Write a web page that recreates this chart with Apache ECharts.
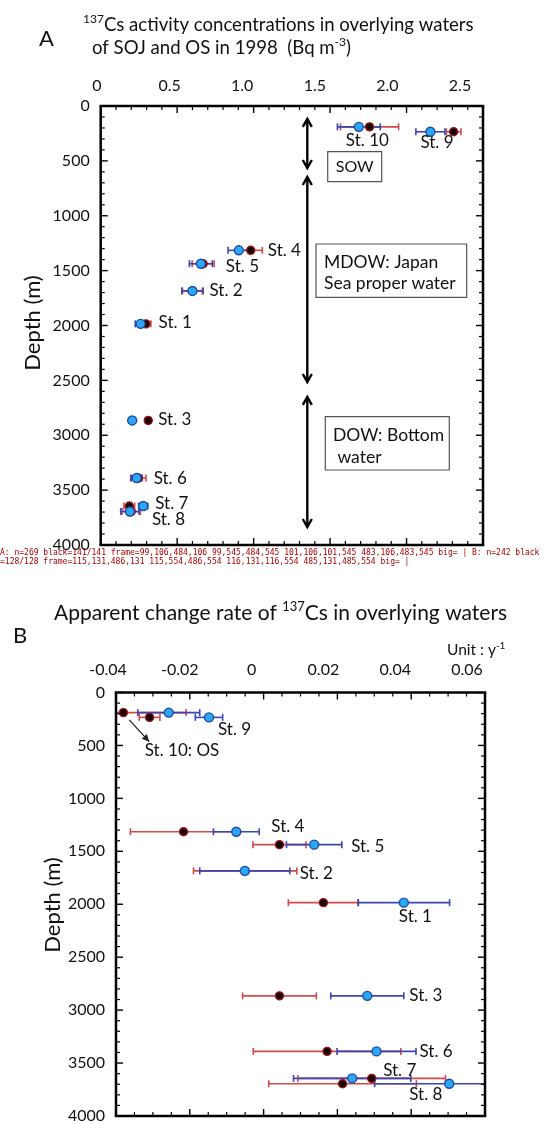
<!DOCTYPE html>
<html>
<head>
<meta charset="utf-8">
<script src="https://cdn.jsdelivr.net/npm/echarts@6/dist/echarts.min.js"></script>
<style>html,body{margin:0;padding:0;background:#fff;}#a{width:544px;height:562px;}#b{width:544px;height:562px;}#d{position:absolute;left:0;top:548px;width:544px;font:8px monospace;line-height:9px;white-space:pre-wrap;word-break:break-all;color:#a00;}</style>
</head>
<body>
<div id="a"></div>
<div id="b"></div>
<div id="d"></div>
<script>
// ---------- data ----------
const stations = ['St. 10', 'St. 9', 'St. 4', 'St. 5', 'St. 2', 'St. 1', 'St. 3', 'St. 6', 'St. 7', 'St. 8'];
const depths   = [190, 235, 1315, 1437, 1685, 1985, 2865, 3390, 3645, 3695];
const concRed     = [1.758, 2.308, 0.981, 0.670, 0.600, 0.296, 0.311, 0.246, 0.187, 0.200];
const concRedErr  = [0.19, 0.048, 0.076, 0.072, 0.065, 0.032, 0.018, 0.05, 0.035, 0.06];
const concBlue    = [1.688, 2.156, 0.903, 0.655, 0.600, 0.261, 0.206, 0.235, 0.278, 0.191];
const concBlueErr = [0.14, 0.095, 0.07, 0.075, 0.07, 0.035, 0.02, 0.035, 0.03, 0.06];
const rateRed     = [-0.0380, -0.0309, -0.0217, 0.0043, -0.0050, 0.0162, 0.0043, 0.0172, 0.0293, 0.0214];
const rateRedErr  = [0.017, 0.0028, 0.0144, 0.0072, 0.014, 0.0095, 0.010, 0.020, 0.020, 0.020];
const rateBlue    = [-0.0257, -0.0148, -0.0074, 0.0137, -0.0051, 0.0380, 0.0281, 0.0306, 0.0240, 0.0503];
const rateBlueErr = [0.0084, 0.0037, 0.0062, 0.0075, 0.0122, 0.0124, 0.0099, 0.0107, 0.0159, 0.0202];
const waterArrows = [[1.351, 118, 565], [1.351, 647, 2515], [1.351, 2651, 3836]];
const osPointer = [[-0.0364, 259, -0.0310, 464]];
const depthMajor = [0, 500, 1000, 1500, 2000, 2500, 3000, 3500, 4000];
const depthMinor = [100, 200, 300, 400, 600, 700, 800, 900, 1100, 1200, 1300, 1400, 1600, 1700, 1800, 1900,
  2100, 2200, 2300, 2400, 2600, 2700, 2800, 2900, 3100, 3200, 3300, 3400, 3600, 3700, 3800, 3900];
const concMajor = [0, 0.5, 1.0, 1.5, 2.0, 2.5];
const concMinor = [0.1, 0.2, 0.3, 0.4, 0.6, 0.7, 0.8, 0.9, 1.1, 1.2, 1.3, 1.4, 1.6, 1.7, 1.8, 1.9, 2.1, 2.2, 2.3, 2.4];
const rateMajor = [-0.04, -0.02, 0, 0.02, 0.04, 0.06];
const rateMinor = [-0.035, -0.03, -0.025, -0.015, -0.01, -0.005, 0.005, 0.01, 0.015, 0.025, 0.03, 0.035, 0.045, 0.05, 0.055];

// ---------- styles ----------
const FONT = 'Lato, "Open Sans", sans-serif';
const RED_BAR = '#d24a4a', BLUE_BAR = '#3a46b2';
const labelOffA = [[-13, 14], [-10, 11], [29, 0], [25, 3], [17, 0], [18, -1], [26, -1], [17, 0], [12, -3], [22, 8]];
const labelOffB = [[-24, 38], [9, 12], [35, -5], [37, 2], [55, 3], [-5, 14], [42, 0], [43, 0], [31, -8], [-40, 11]];
const B_TOP = 562;

function errBar(color) {
  return function (params, api) {
    const x = api.value(0), y = api.value(1), e = api.value(2);
    const cs = params.coordSys;
    const p1 = api.coord([x - e, y]), p2 = api.coord([x + e, y]);
    const left = cs.x, right = cs.x + cs.width;
    const x1 = Math.max(p1[0], left), x2 = Math.min(p2[0], right);
    const st = () => ({ stroke: color, lineWidth: 1.6 });
    const ch = [{ type: 'line', shape: { x1: x1, y1: p1[1], x2: x2, y2: p1[1] }, style: st() }];
    if (p1[0] >= left) ch.push({ type: 'line', shape: { x1: x1, y1: p1[1] - 3.5, x2: x1, y2: p1[1] + 3.5 }, style: st() });
    if (p2[0] <= right) ch.push({ type: 'line', shape: { x1: x2, y1: p2[1] - 3.5, x2: x2, y2: p2[1] + 3.5 }, style: st() });
    return { type: 'group', children: ch };
  };
}
function dblArrow(params, api) {
  const a = api.coord([api.value(0), api.value(1)]), b = api.coord([api.value(0), api.value(2)]);
  const st = () => ({ stroke: '#000', lineWidth: 2.4, fill: null });
  return { type: 'group', children: [
    { type: 'line', shape: { x1: a[0], y1: a[1], x2: b[0], y2: b[1] }, style: st() },
    { type: 'polyline', shape: { points: [[a[0] - 4.5, a[1] + 8], [a[0], a[1]], [a[0] + 4.5, a[1] + 8]] }, style: st() },
    { type: 'polyline', shape: { points: [[b[0] - 4.5, b[1] - 8], [b[0], b[1]], [b[0] + 4.5, b[1] - 8]] }, style: st() }
  ]};
}
function pointer(params, api) {
  const a = api.coord([api.value(0), api.value(1)]), b = api.coord([api.value(2), api.value(3)]);
  const ang = Math.atan2(b[1] - a[1], b[0] - a[0]);
  const L = 8, w = 0.45;
  const h1 = [b[0] - L * Math.cos(ang - w), b[1] - L * Math.sin(ang - w)];
  const h2 = [b[0] - L * Math.cos(ang + w), b[1] - L * Math.sin(ang + w)];
  return { type: 'group', children: [
    { type: 'line', shape: { x1: a[0], y1: a[1], x2: b[0], y2: b[1] }, style: { stroke: '#222', lineWidth: 1.3 } },
    { type: 'polygon', shape: { points: [b, h1, h2] }, style: { fill: '#222' } }
  ]};
}
function frameRender(xLo, xHi, xMaj, xMin) {
  return function (params, api) {
    const tl = api.coord([xLo, 0]), br = api.coord([xHi, 4000]);
    const L = tl[0], T = tl[1], R = br[0], B = br[1];
    const ch = [];
    const ln = (x1, y1, x2, y2, w) => ch.push({ type: 'line', shape: { x1: x1, y1: y1, x2: x2, y2: y2 }, style: { stroke: '#000', lineWidth: w } });
    xMaj.forEach(v => { const px = api.coord([v, 0])[0]; ln(px, T, px, T + 7, 1.4); ln(px, B, px, B - 7, 1.4); });
    xMin.forEach(v => { const px = api.coord([v, 0])[0]; ln(px, T, px, T + 4, 1.2); ln(px, B, px, B - 4, 1.2); });
    depthMajor.forEach(v => { const py = api.coord([xLo, v])[1]; ln(L, py, L + 7, py, 1.4); ln(R, py, R - 7, py, 1.4); });
    depthMinor.forEach(v => { const py = api.coord([xLo, v])[1]; ln(L, py, L + 4, py, 1.2); ln(R, py, R - 4, py, 1.2); });
    ln(L - 1.25, T, R + 1.25, T, 2.5); ln(L - 1.25, B, R + 1.25, B, 2.5);
    ln(L, T, L, B, 2.5); ln(R, T, R, B, 2.5);
    return { type: 'group', children: ch };
  };
}

const tickLabel = () => ({ fontFamily: FONT, fontSize: 16, color: '#111' });
function dataX(min, max, interval) {
  return { type: 'value', gridIndex: 0, position: 'top', min: min, max: max, interval: interval,
    axisLine: { show: false, onZero: false }, axisTick: { show: false }, axisLabel: { show: false }, splitLine: { show: false } };
}
function labelX(min, max, interval, dec, margin) {
  return { type: 'value', gridIndex: 1, position: 'top', min: min, max: max, interval: interval,
    axisLine: { show: false, onZero: false }, axisTick: { show: false }, splitLine: { show: false },
    axisLabel: Object.assign({ margin: margin, formatter: v => Math.abs(v) < 1e-9 ? '0' : v.toFixed(dec) }, tickLabel()) };
}
function depthY() {
  return { type: 'value', gridIndex: 0, position: 'left', inverse: true, min: 0, max: 4000, interval: 500,
    axisLine: { show: false, onZero: false }, axisTick: { show: false }, splitLine: { show: false },
    axisLabel: Object.assign({ margin: 11, formatter: v => String(v) }, tickLabel()) };
}
function hiddenY() {
  return { type: 'value', gridIndex: 1, inverse: true, min: 0, max: 4000, show: false };
}
function pts(xs, color, border, size, offs, withLabel, z) {
  return {
    type: 'scatter', xAxisIndex: 0, yAxisIndex: 0, symbol: 'circle', symbolSize: size, z: z,
    itemStyle: { color: color, borderColor: border, borderWidth: 1.4, opacity: 1 },
    label: { show: false },
    data: xs.map((x, i) => ({
      value: [x, depths[i]], name: stations[i],
      label: withLabel ? { show: true, position: 'inside', align: 'left', verticalAlign: 'middle',
        offset: offs[i], formatter: (withLabel === 'B' && i === 0) ? 'St. 10: OS' : '{b}',
        fontFamily: FONT, fontSize: 17, color: '#111' } : { show: false }
    }))
  };
}
function errs(xs, es, color, z) {
  return { type: 'custom', xAxisIndex: 0, yAxisIndex: 0, z: z, renderItem: errBar(color),
    data: xs.map((x, i) => [x, depths[i], es[i]]), silent: true };
}
function frame(xLo, xHi, xMaj, xMin) {
  return { type: 'custom', xAxisIndex: 0, yAxisIndex: 0, z: 30, zlevel: 3, clip: false, silent: true,
    renderItem: frameRender(xLo, xHi, xMaj, xMin), data: [[xLo, 0]] };
}
const boxStyle = () => ({ fill: '#fff', stroke: '#555', lineWidth: 1.2 });
const txt = (x, y, text, size, extra) => ({ type: 'text', x: x, y: y, z: 100,
  style: Object.assign({ text: text, font: size + 'px ' + FONT, fill: '#111', textVerticalAlign: 'middle' }, extra || {}) });

const optionA = {
  animation: false,
  grid: [{ left: 100.7, top: 106, width: 382.3, height: 439 }, { left: 97, top: 106, width: 363, height: 439 }],
  xAxis: [dataX(0, 2.5, 0.5), labelX(0, 2.5, 0.5, 1, 12)],
  yAxis: [depthY(), hiddenY()],
  series: [
    frame(0, 2.5, concMajor, concMinor),
    errs(concRed, concRedErr, RED_BAR, 2),
    errs(concBlue, concBlueErr, BLUE_BAR, 3),
    pts(concRed, '#140404', '#9a1212', 8, labelOffA, false, 4),
    pts(concBlue, '#2aa8f2', '#1f4aa8', 9, labelOffA, 'A', 5),
    { type: 'custom', xAxisIndex: 0, yAxisIndex: 0, z: 6, renderItem: dblArrow, data: waterArrows, silent: true }
  ],
  graphic: [
    txt(39, 39, 'A', 22),
    { type: 'text', x: 83, y: 25, z: 100, style: {
      text: '{s|137}Cs activity concentrations in overlying waters',
      font: '18.6px ' + FONT, fill: '#111', textVerticalAlign: 'middle',
      rich: { s: { fontSize: 12, verticalAlign: 'top', lineHeight: 23, fontFamily: FONT, padding: [0, 0, 6, 0] } } } },
    { type: 'text', x: 92, y: 48, z: 100, style: {
      text: 'of SOJ and OS in 1998  (Bq m{s|-3})',
      font: '18.6px ' + FONT, fill: '#111', textVerticalAlign: 'middle',
      rich: { s: { fontSize: 12, verticalAlign: 'top', lineHeight: 23, fontFamily: FONT, padding: [0, 0, 6, 0] } } } },
    Object.assign(txt(33, 323, 'Depth (m)', 22, { textAlign: 'center' }), { rotation: Math.PI / 2 }),
    { type: 'rect', shape: { x: 327.7, y: 151.7, width: 54, height: 30 }, style: boxStyle(), z: 90 },
    txt(354.7, 167, 'SOW', 16, { textAlign: 'center' }),
    { type: 'rect', shape: { x: 316, y: 244, width: 150.7, height: 53.3 }, style: boxStyle(), z: 90 },
    txt(324, 262, 'MDOW: Japan', 17.5),
    txt(324, 283.5, 'Sea proper water', 17.5),
    { type: 'rect', shape: { x: 325.3, y: 416.7, width: 124, height: 53.3 }, style: boxStyle(), z: 90 },
    txt(333, 435, 'DOW: Bottom', 17.5),
    txt(333, 457, ' water', 17.5)
  ]
};
const optionB = {
  animation: false,
  grid: [{ left: 116, top: 692.5 - B_TOP, width: 369, height: 424.5 }, { left: 108, top: 692.5 - B_TOP, width: 359, height: 424.5 }],
  xAxis: [dataX(-0.04, 0.06, 0.02), labelX(-0.04, 0.06, 0.02, 2, 15)],
  yAxis: [depthY(), hiddenY()],
  series: [
    frame(-0.04, 0.06, rateMajor, rateMinor),
    errs(rateRed, rateRedErr, RED_BAR, 2),
    errs(rateBlue, rateBlueErr, BLUE_BAR, 3),
    pts(rateRed, '#140404', '#9a1212', 8, labelOffB, false, 4),
    pts(rateBlue, '#2aa8f2', '#1f4aa8', 9, labelOffB, 'B', 5),
    { type: 'custom', xAxisIndex: 0, yAxisIndex: 0, z: 6, renderItem: pointer, data: osPointer, silent: true }
  ],
  graphic: [
    txt(13, 636 - B_TOP, 'B', 22),
    { type: 'text', x: 54, y: 613 - B_TOP, z: 100, style: {
      text: 'Apparent change rate of {s|137}Cs in overlying waters',
      font: '21px ' + FONT, fill: '#111', textVerticalAlign: 'middle',
      rich: { s: { fontSize: 13, verticalAlign: 'top', lineHeight: 26, fontFamily: FONT, padding: [0, 0, 7, 0] } } } },
    { type: 'text', x: 447, y: 650 - B_TOP, z: 100, style: {
      text: 'Unit : y{s|-1}',
      font: '15.5px ' + FONT, fill: '#111', textVerticalAlign: 'middle',
      rich: { s: { fontSize: 10, verticalAlign: 'top', lineHeight: 19, fontFamily: FONT, padding: [0, 0, 5, 0] } } } },
    Object.assign(txt(53, 905 - B_TOP, 'Depth (m)', 22, { textAlign: 'center' }), { rotation: Math.PI / 2 })
  ]
};

let diag = '';
const chartA = echarts.init(document.getElementById('a'));
try { chartA.setOption(optionA); } catch (e) { diag += 'A ERR ' + e.message + ' | '; }
const chartB = echarts.init(document.getElementById('b'));
try { chartB.setOption(optionB); } catch (e) { diag += 'B ERR ' + e.message + ' | '; }
try {
  [['A', chartA], ['B', chartB]].forEach(function (p) {
    const list = p[1].getZr().storage.getDisplayList(true);
    let black = 0, blackVis = 0, big = [];
    list.forEach(function (el) {
      if (el.style && el.style.stroke === '#000' && el.shape && el.shape.x1 !== undefined) { black++; if (!el.ignore && !el.invisible) blackVis++; }
      const r = el.getBoundingRect ? el.getBoundingRect() : null;
      if (r && (r.width > 150 && r.height > 150)) big.push(el.type + '[' + [r.x, r.y, r.width, r.height].map(Math.round) + ' f:' + (el.style && el.style.fill) + ' z' + el.z + ' zl' + el.zlevel + ']');
    });
    const fr = list.filter(el => el.style && el.style.lineWidth === 2.5 && el.shape && el.shape.x1 !== undefined).map(el => [el.shape.x1, el.shape.y1, el.shape.x2, el.shape.y2].map(v => Math.round(v)).join(',') + (el.__clipPaths && el.__clipPaths.length ? 'C' : ''));
    diag += p[0] + ': n=' + list.length + ' black=' + black + '/' + blackVis + ' frame=' + fr.join(' ') + ' big=' + big.join(' ') + ' | ';
  });
} catch (e) { diag += 'DIAG ERR ' + e.message; }
document.getElementById('d').textContent = diag;
</script>
</body>
</html>
